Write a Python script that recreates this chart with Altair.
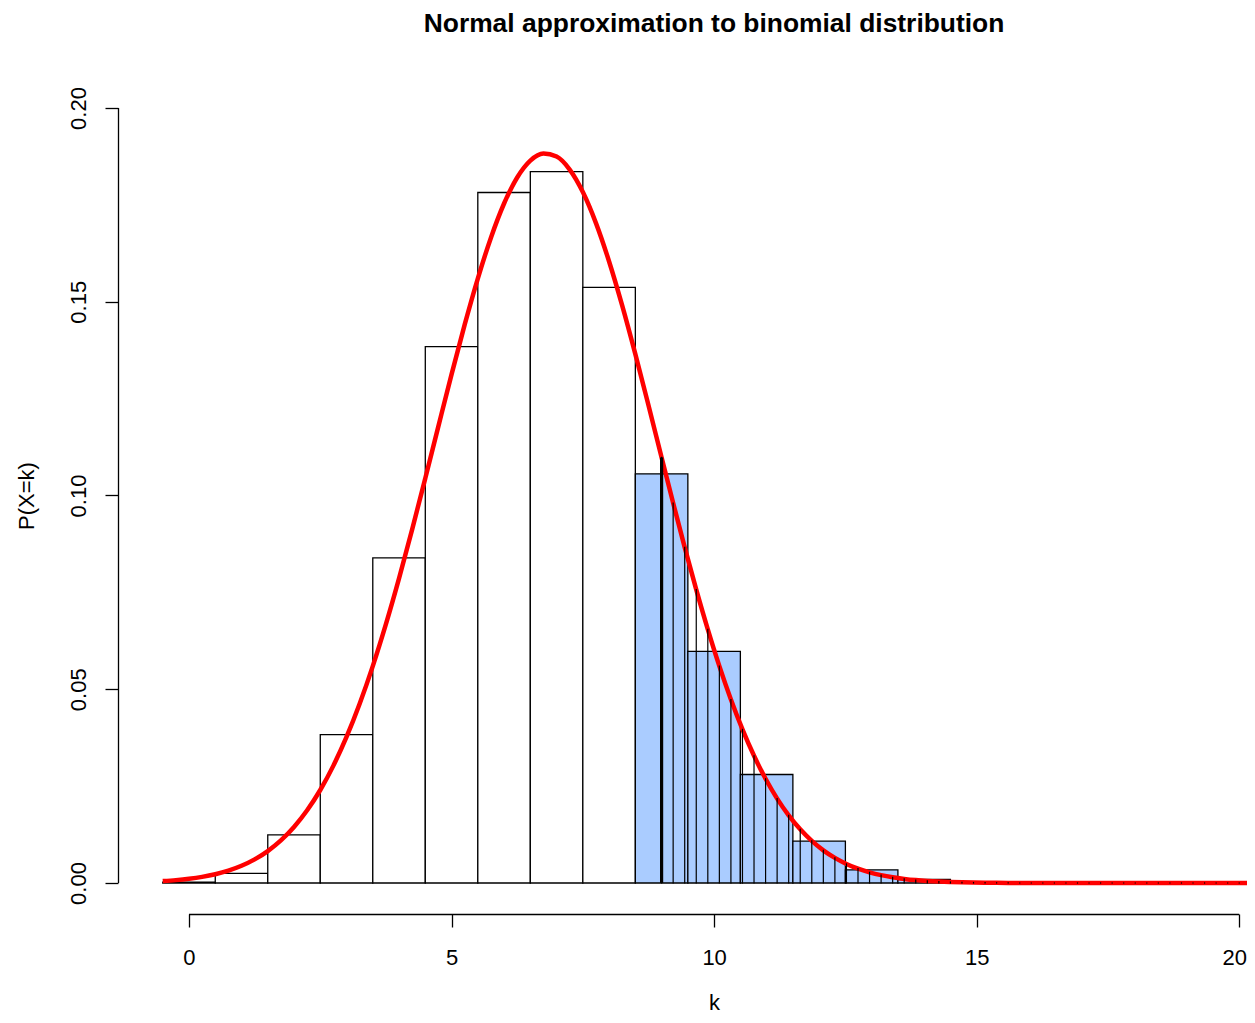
import altair as alt
import pandas as pd

# ---------------- data ----------------
k_values = list(range(21))
pmf = [0.0002, 0.0025, 0.0124, 0.0383, 0.0839, 0.1384, 0.1782, 0.1836,
       0.1537, 0.1056, 0.0598, 0.0280, 0.0108, 0.0034, 0.0009, 0.0002,
       0.0, 0.0, 0.0, 0.0, 0.0]
cutoff = 9

# normal curve, left part
curve_head_x = [-0.5, -0.25, 0.0, 0.25, 0.5, 0.75, 1.0, 1.25, 1.5, 1.75,
                2.0, 2.25, 2.5, 2.75, 3.0, 3.25, 3.5, 3.75, 4.0, 4.25,
                4.5, 4.75, 5.0, 5.25, 5.5, 5.75, 6.0, 6.25, 6.5, 6.75,
                7.0, 7.25, 7.5, 7.75, 8.0, 8.25, 8.5, 8.75]
curve_head_y = [0.00050, 0.00074, 0.00109, 0.00158, 0.00226, 0.00319, 0.00444,
                0.00609, 0.00824, 0.01099, 0.01446, 0.01876, 0.02400, 0.03029,
                0.03769, 0.04625, 0.05597, 0.06680, 0.07862, 0.09126, 0.10445,
                0.11791, 0.13125, 0.14409, 0.15599, 0.16654, 0.17535, 0.18207,
                0.18643, 0.18826, 0.18747, 0.18411, 0.17831, 0.17030, 0.16040,
                0.14899, 0.13647, 0.12329]

# shaded tail: vertical lines up to the curve
shade_x = [9.00, 9.22, 9.44, 9.66, 9.88, 10.10, 10.32, 10.54, 10.76, 10.98,
           11.20, 11.42, 11.64, 11.86, 12.08, 12.30, 12.52, 12.74, 12.96, 13.18,
           13.40, 13.62, 13.84, 14.06, 14.28, 14.50, 14.72, 14.94, 15.16, 15.38,
           15.60, 15.82, 16.04, 16.26, 16.48, 16.70, 16.92, 17.14, 17.36, 17.58,
           17.80, 18.02, 18.24, 18.46, 18.68, 18.90, 19.12, 19.34, 19.56, 19.78,
           20.00, 20.22]
shade_y = [0.10982, 0.09807, 0.08663, 0.07570, 0.06545, 0.05597, 0.04736,
           0.03964, 0.03282, 0.02689, 0.02178, 0.01746, 0.01385, 0.01087,
           0.00843, 0.00647, 0.00492, 0.00369, 0.00275, 0.00202, 0.00147,
           0.00106, 0.00075, 0.00053, 0.00037, 0.00025, 0.00017, 0.00012,
           0.00008, 0.00005, 0.00003,
           0.0, 0.0, 0.0, 0.0, 0.0, 0.0, 0.0, 0.0, 0.0, 0.0,
           0.0, 0.0, 0.0, 0.0, 0.0, 0.0, 0.0, 0.0, 0.0, 0.0, 0.0]
curve_tail_x = [20.5]
curve_tail_y = [0.0]

cut_x = [9.0]
cut_y = [0.1098]

x_ticks = [0, 5, 10, 15, 20]
y_ticks = [0.0, 0.05, 0.10, 0.15, 0.20]

title_text = "Normal approximation to binomial distribution"
x_title = "k"
y_title = "P(X=k)"

fill_below = "white"
fill_above = "#AACCFF"
FONT = "Liberation Sans"

# ---------------- tables ----------------
bars = pd.DataFrame({"k": k_values, "p": pmf})
bars["left"] = bars["k"] - 0.5
bars["right"] = bars["k"] + 0.5
bars["base"] = 0.0
bars["fill"] = [fill_above if k >= cutoff else fill_below for k in k_values]

curve = pd.DataFrame({"cx": curve_head_x + shade_x + curve_tail_x,
                      "cy": curve_head_y + shade_y + curve_tail_y})
curve["order"] = range(len(curve))

shade = pd.DataFrame({"sx": shade_x, "sy": shade_y})
shade["base"] = 0.0

cut = pd.DataFrame({"sx": cut_x, "sy": cut_y, "base": [0.0]})

yaxis_line = pd.DataFrame({"v0": [y_ticks[0]], "v1": [y_ticks[-1]]})
xaxis_line = pd.DataFrame({"v0": [x_ticks[0]], "v1": [x_ticks[-1]]})
title_df = pd.DataFrame({"t": [title_text]})

W, H = 1129, 837
xs = alt.Scale(domain=[-1.352, 20.148], nice=False, zero=False)
ys = alt.Scale(domain=[-0.008, 0.208], nice=False, zero=False)

x_axis = alt.Axis(
    values=x_ticks, format="d", title=x_title,
    labelOffset={"condition": {"test": "datum.value == 20", "value": -5}, "value": 0},
)
y_axis = alt.Axis(values=y_ticks, format=".2f", title=y_title)

bar_layer = alt.Chart(bars).mark_rect(stroke="black", strokeWidth=1.3).encode(
    x=alt.X("left:Q", scale=xs, axis=x_axis, title=x_title),
    x2="right:Q",
    y=alt.Y("p:Q", scale=ys, axis=y_axis, title=y_title),
    y2="base:Q",
    fill=alt.Fill("fill:N", scale=None),
)

curve_layer = alt.Chart(curve).mark_line(color="red", strokeWidth=4.5, clip=True,
                                         interpolate="monotone").encode(
    x=alt.X("cx:Q", scale=xs, title=x_title),
    y=alt.Y("cy:Q", scale=ys, title=y_title),
    order="order:Q",
)

shade_layer = alt.Chart(shade).mark_rule(color="black", strokeWidth=1.2,
                                         strokeCap="square", clip=True).encode(
    x=alt.X("sx:Q", scale=xs, title=x_title),
    y=alt.Y("sy:Q", scale=ys, title=y_title),
    y2="base:Q",
)

cut_layer = alt.Chart(cut).mark_rule(color="black", strokeWidth=3.2).encode(
    x=alt.X("sx:Q", scale=xs, title=x_title),
    y=alt.Y("sy:Q", scale=ys, title=y_title),
    y2="base:Q",
)

yline_layer = alt.Chart(yaxis_line).mark_rule(color="black", strokeWidth=1.3).encode(
    x=alt.value(0.5),
    y=alt.Y("v0:Q", scale=ys, title=y_title),
    y2="v1:Q",
)

xline_layer = alt.Chart(xaxis_line).mark_rule(color="black", strokeWidth=1.3).encode(
    x=alt.X("v0:Q", scale=xs, title=x_title),
    x2="v1:Q",
    y=alt.value(H + 0.5),
)

title_layer = alt.Chart(title_df).mark_text(
    font=FONT, fontSize=26.4, fontWeight="bold", color="black",
    align="center", baseline="alphabetic",
).encode(
    text="t:N",
    x=alt.value(596),
    y=alt.value(-45),
)

chart = alt.layer(
    bar_layer, curve_layer, shade_layer, cut_layer, yline_layer, xline_layer,
    title_layer,
).properties(
    width=W,
    height=H,
    autosize=alt.AutoSizeParams(type="none"),
    padding={"left": 110, "top": 69, "right": 0, "bottom": 101},
).configure_view(
    stroke=None
).configure_axis(
    grid=False, domain=False,
    tickSize=13, tickWidth=1.3, tickColor="black",
    labelFont=FONT, labelFontSize=22, labelColor="black",
    titleFont=FONT, titleFontSize=22, titleFontWeight="normal", titleColor="black",
    labelFlush=False, labelOverlap=False,
).configure_axisX(
    labelPadding=37, labelBaseline="alphabetic", labelAlign="center",
    titleX=596, titleY=95, titleAlign="center", titleBaseline="alphabetic",
    titleAngle=0,
).configure_axisY(
    labelAngle=270, labelPadding=20, labelAlign="center", labelBaseline="alphabetic",
    titleX=-85, titleY=418.5, titleAngle=270, titleAlign="center",
    titleBaseline="alphabetic",
)

chart.save("out.html", embed_options={"renderer": "svg", "actions": False})
